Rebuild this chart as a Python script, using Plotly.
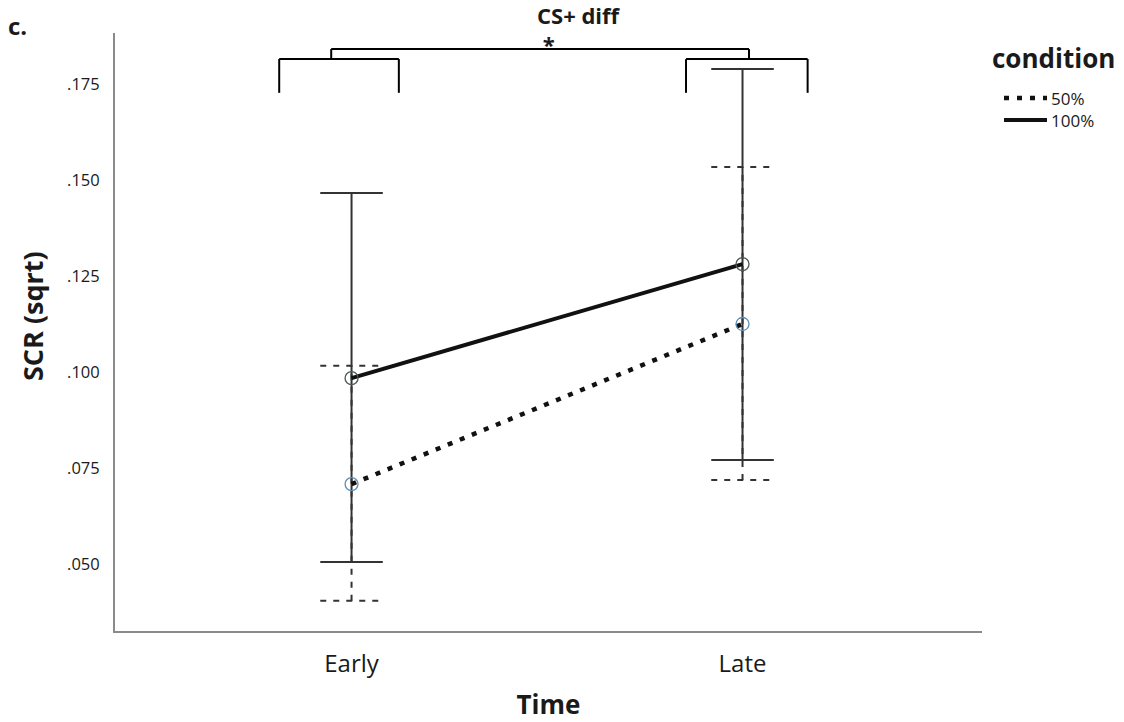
import plotly.graph_objects as go

# ---- data ----
times = ["Early", "Late"]
time_pos = [0, 1]
conditions = ["50%", "100%"]

mean_50 = [0.0708, 0.1125]
lower_50 = [0.0404, 0.0719]
upper_50 = [0.1016, 0.1534]

mean_100 = [0.0984, 0.1281]
lower_100 = [0.0505, 0.0771]
upper_100 = [0.1466, 0.1789]

y_tickvals = [0.050, 0.075, 0.100, 0.125, 0.150, 0.175]
y_ticktext = [".050", ".075", ".100", ".125", ".150", ".175"]

FONT = "Open Sans"
INK = "#1a1a1a"
CAP = 0.08  # half cap width in x units
DOT = "5px,8px"

# plot-area geometry (pixels) for paper-coordinate helpers
L, R, T, B = 115, 982, 33, 631
def px(x):
    return (x - L) / (R - L)
def py(y):
    return (B - y) / (B - T)

fig = go.Figure()

def errbars(xs, lo, hi, dash, width, color):
    for x, l, h in zip(xs, lo, hi):
        fig.add_trace(go.Scatter(x=[x, x], y=[l, h], mode="lines",
                                 line=dict(color=color, width=width, dash=dash),
                                 showlegend=False, hoverinfo="skip"))
        for v in (l, h):
            fig.add_trace(go.Scatter(x=[x - CAP, x + CAP], y=[v, v], mode="lines",
                                     line=dict(color=color, width=width, dash=dash),
                                     showlegend=False, hoverinfo="skip"))

# dashed error bars (50%), then solid (100%)
errbars(time_pos, lower_50, upper_50, "6px,7px", 2, "#333333")
errbars(time_pos, lower_100, upper_100, "solid", 2, "#333333")

# condition lines
fig.add_trace(go.Scatter(x=time_pos, y=mean_50, mode="lines", name=conditions[0],
                         line=dict(color="#111111", width=4.5, dash=DOT),
                         showlegend=False, hoverinfo="skip"))
fig.add_trace(go.Scatter(x=time_pos, y=mean_100, mode="lines", name=conditions[1],
                         line=dict(color="#111111", width=4),
                         showlegend=False, hoverinfo="skip"))
# markers
fig.add_trace(go.Scatter(x=time_pos, y=mean_50, mode="markers",
                         marker=dict(symbol="circle-open", size=13, color="#5f8fb3",
                                     line=dict(width=1.3)),
                         showlegend=False))
fig.add_trace(go.Scatter(x=time_pos, y=mean_100, mode="markers",
                         marker=dict(symbol="circle-open", size=13, color="#4d5a58",
                                     line=dict(width=1.3)),
                         showlegend=False))

# significance bracket
bk = dict(type="line", xref="x", yref="y", line=dict(color="black", width=2))
yb_top, yb_bot, yc_top = 0.1815, 0.1727, 0.1841
for x0, x1 in [(-0.185, 0.121), (0.8555, 1.1665)]:
    fig.add_shape(x0=x0, x1=x0, y0=yb_bot, y1=yb_top, **bk)
    fig.add_shape(x0=x0, x1=x1, y0=yb_top, y1=yb_top, **bk)
    fig.add_shape(x0=x1, x1=x1, y0=yb_top, y1=yb_bot, **bk)
fig.add_shape(x0=-0.052, x1=-0.052, y0=yb_top, y1=yc_top, **bk)
fig.add_shape(x0=-0.052, x1=1.0166, y0=yc_top, y1=yc_top, **bk)
fig.add_shape(x0=1.0166, x1=1.0166, y0=yc_top, y1=yb_top, **bk)

# title with significance star on second line
fig.add_annotation(x=px(535), y=py(-2), xref="paper", yref="paper",
                   text="<b>CS+ diff</b><br>&nbsp;<b>*</b>",
                   showarrow=False, xanchor="left", yanchor="top", align="left",
                   font=dict(family=FONT, size=22, color=INK))
fig.add_annotation(x=px(6), y=py(26), xref="paper", yref="paper", text="<b>c.</b>",
                   showarrow=False, xanchor="left", yanchor="middle",
                   font=dict(family=FONT, size=24, color=INK))

# y-axis title
fig.add_annotation(x=px(32), y=py(316), xref="paper", yref="paper",
                   text="<b>SCR (sqrt)</b>", textangle=-90,
                   showarrow=False, xanchor="center", yanchor="middle",
                   font=dict(family=FONT, size=27, color=INK))

# legend (drawn manually to match spacing)
fig.add_annotation(x=px(990), y=py(58), xref="paper", yref="paper", text="<b>condition</b>",
                   showarrow=False, xanchor="left", yanchor="middle",
                   font=dict(family=FONT, size=26, color=INK))
leg_y = [98, 120]
leg_dash = [DOT, "solid"]
leg_w = [4.5, 4]
for yy, dsh, w in zip(leg_y, leg_dash, leg_w):
    fig.add_shape(type="line", xref="paper", yref="paper",
                  x0=px(1004), x1=px(1047), y0=py(yy), y1=py(yy),
                  line=dict(color="#111111", width=w, dash=dsh))
fig.add_annotation(x=px(1049), y=py(109), xref="paper", yref="paper",
                   text="<br>".join(conditions), align="left",
                   showarrow=False, xanchor="left", yanchor="middle",
                   font=dict(family=FONT, size=17, color=INK))

fig.update_layout(
    width=1124, height=722,
    margin=dict(l=L, r=1124 - R, t=T, b=722 - B, autoexpand=False),
    paper_bgcolor="white", plot_bgcolor="white",
    font=dict(family=FONT, color=INK),
    showlegend=False,
    xaxis=dict(range=[-0.605, 1.6125], tickvals=time_pos, ticktext=times,
               showgrid=False, zeroline=False, showline=True, linecolor="#8a8a8a",
               linewidth=2, ticks="", ticklabelstandoff=10, automargin=False,
               tickfont=dict(family=FONT, size=24, color=INK),
               title=dict(text="<b>Time</b>", standoff=23,
                          font=dict(family=FONT, size=26, color=INK))),
    yaxis=dict(range=[0.03255, 0.18828], tickvals=y_tickvals, ticktext=y_ticktext,
               showgrid=False, zeroline=False, showline=True, linecolor="#8a8a8a",
               linewidth=2, ticks="", ticklabelstandoff=10, automargin=False,
               tickfont=dict(family=FONT, size=16.5, color=INK)),
)

fig.write_html("out.html")
